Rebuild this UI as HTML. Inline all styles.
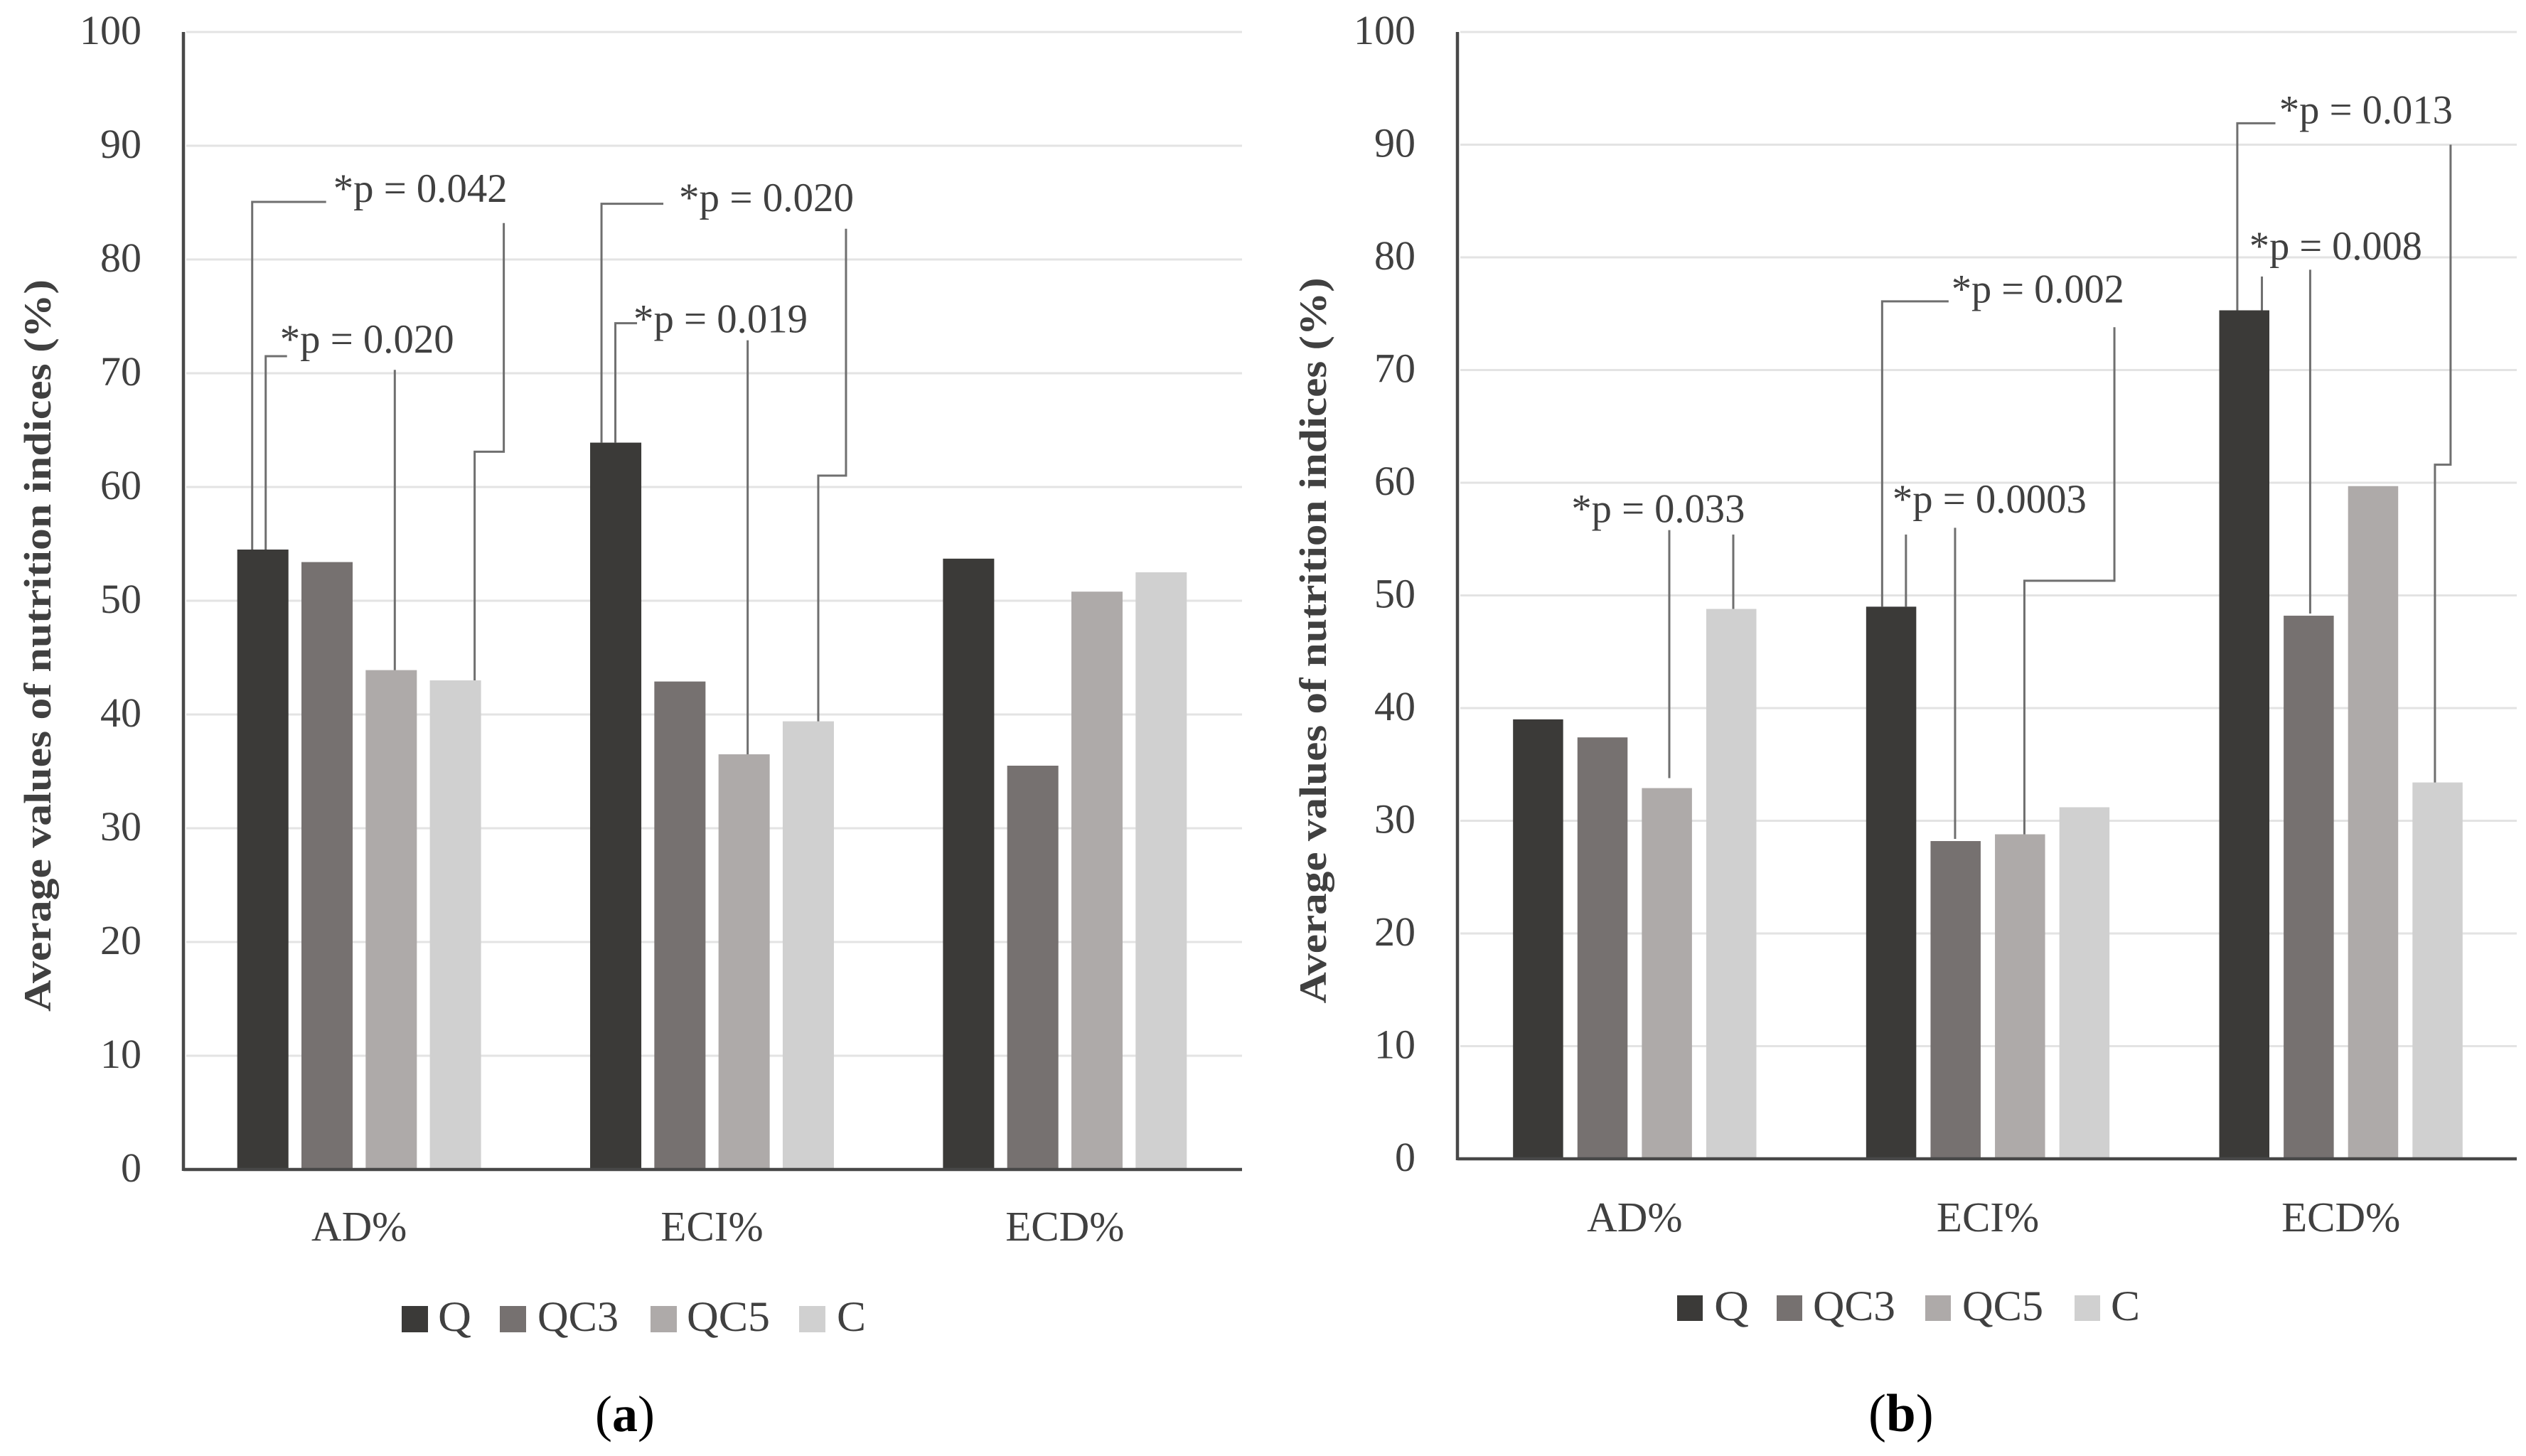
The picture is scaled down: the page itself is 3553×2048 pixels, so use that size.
<!DOCTYPE html>
<html lang="en">
<head>
<meta charset="utf-8">
<title>Average values of nutrition indices</title>
<style>
html,body{margin:0;padding:0;background:#fff;}
svg{display:block;}
text{font-family:"Liberation Serif","DejaVu Serif",serif;fill:#404040;}
</style>
</head>
<body>
<svg id="figure" xmlns="http://www.w3.org/2000/svg" width="3553" height="2048" viewBox="0 0 3553 2048">
  <rect x="0" y="0" width="3553" height="2048" fill="#ffffff"/>
  <text x="71" y="908" transform="rotate(-90 71 908)" text-anchor="middle" font-size="54" font-weight="bold" textLength="1030" lengthAdjust="spacingAndGlyphs">Average values of nutrition indices (%)</text>
  <text x="1865" y="901" transform="rotate(-90 1865 901)" text-anchor="middle" font-size="54" font-weight="bold" textLength="1021" lengthAdjust="spacingAndGlyphs">Average values of nutrition indices (%)</text>
  <text x="837" y="2013" font-size="72" style="fill:#000">(<tspan font-weight="bold">a</tspan>)</text>
  <text x="2628" y="2013" font-size="75" style="fill:#000">(<tspan font-weight="bold">b</tspan>)</text>
</svg>
<script>
// ---- data ----
const categories = ['AD%', 'ECI%', 'ECD%'];
const seriesNames = ['Q', 'QC3', 'QC5', 'C'];
const yTicks = [0, 10, 20, 30, 40, 50, 60, 70, 80, 90, 100];

const panelAQ = [54.5, 63.9, 53.7];
const panelAQC3 = [53.4, 42.9, 35.5];
const panelAQC5 = [43.9, 36.5, 50.8];
const panelAC = [43.0, 39.4, 52.5];

const panelBQ = [39.0, 49.0, 75.3];
const panelBQC3 = [37.4, 28.2, 48.2];
const panelBQC5 = [32.9, 28.8, 59.7];
const panelBC = [48.8, 31.2, 33.4];

const panelAPValues = ['*p = 0.042', '*p = 0.020', '*p = 0.020', '*p = 0.019'];
const panelBPValues = ['*p = 0.033', '*p = 0.002', '*p = 0.0003', '*p = 0.013', '*p = 0.008'];

// ---- appearance and layout ----
const seriesColors = ['#3b3a38', '#767170', '#aeaaa9', '#d0d0d0'];
const SVG_NS = 'http://www.w3.org/2000/svg';
const root = document.getElementById('figure');

const panels = [
  {
    id: 'a', axisX: 258, rightX: 1747, topY: 45, baseY: 1645,
    barWidth: 72, barStep: 90.3, centerShift: -1,
    categoryBaseline: 1745, categoryShift: 0,
    legendTop: 1837, legendSize: 37, legendBaseline: 1872,
    legendSwatchX: [565, 703, 915, 1124], legendTextX: [616, 756, 966, 1177], legendTextW: [47, 114, 117, 41],
    series: [panelAQ, panelAQC3, panelAQC5, panelAC],
    pValues: panelAPValues,
    // label: anchor bar [group, series], offset from the bar's left edge, height in axis units, width
    labels: [
      { bar: [0, 0], dx: 135, v: 85.06, w: 245 },
      { bar: [0, 0], dx: 60, v: 71.8, w: 245 },
      { bar: [1, 0], dx: 125, v: 84.25, w: 246 },
      { bar: [1, 0], dx: 61, v: 73.6, w: 245 }
    ],
    // leader: starts on top of the anchor bar, then follows route [offset, axis value]
    leaders: [
      { bar: [0, 0], dx: 21, gap: 0, route: [[21, 85.06], [125, 85.06]] },
      { bar: [0, 3], dx: 63, gap: 0, route: [[63, 63.1], [104, 63.1], [104, 83.2]] },
      { bar: [0, 0], dx: 40, gap: 0, route: [[40, 71.5], [70, 71.5]] },
      { bar: [0, 2], dx: 41, gap: 0, route: [[41, 70.3]] },
      { bar: [1, 0], dx: 16, gap: 0, route: [[16, 84.9], [103, 84.9]] },
      { bar: [1, 3], dx: 50, gap: 0, route: [[50, 61.0], [89, 61.0], [89, 82.7]] },
      { bar: [1, 0], dx: 35.5, gap: 0, route: [[35.5, 74.4], [66, 74.4]] },
      { bar: [1, 2], dx: 41, gap: 0, route: [[41, 72.9]] }
    ],
    tickRight: 199
  },
  {
    id: 'b', axisX: 2050, rightX: 3540, topY: 45, baseY: 1630,
    barWidth: 70.5, barStep: 90.6, centerShift: 1,
    categoryBaseline: 1732, categoryShift: 0,
    legendTop: 1822, legendSize: 36, legendBaseline: 1857,
    legendSwatchX: [2359, 2499, 2708, 2918], legendTextX: [2411, 2550, 2760, 2969], legendTextW: [49, 116, 114, 41],
    series: [panelBQ, panelBQC3, panelBQC5, panelBC],
    pValues: panelBPValues,
    labels: [
      { bar: [0, 2], dx: -99, v: 56.5, w: 244 },
      { bar: [1, 0], dx: 120, v: 76.0, w: 243 },
      { bar: [1, 0], dx: 37, v: 57.35, w: 273 },
      { bar: [2, 0], dx: 84.4, v: 91.9, w: 244 },
      { bar: [2, 0], dx: 42.4, v: 79.8, w: 243 }
    ],
    leaders: [
      { bar: [0, 2], dx: 38.6, gap: 14, route: [[38.6, 55.8]] },
      { bar: [0, 3], dx: 38, gap: 0, route: [[38, 55.4]] },
      { bar: [1, 0], dx: 22.5, gap: 0, route: [[22.5, 76.1], [116, 76.1]] },
      { bar: [1, 2], dx: 41.4, gap: 0, route: [[41.4, 51.3], [168, 51.3], [168, 73.8]] },
      { bar: [1, 0], dx: 56, gap: 0, route: [[56, 55.4]] },
      { bar: [1, 1], dx: 34.5, gap: 3, route: [[34.5, 56.0]] },
      { bar: [2, 0], dx: 25.4, gap: 0, route: [[25.4, 91.9], [79, 91.9]] },
      { bar: [2, 3], dx: 31.6, gap: 0, route: [[31.6, 61.6], [53.6, 61.6], [53.6, 90.0]] },
      { bar: [2, 0], dx: 60, gap: 0, route: [[60, 78.3]] },
      { bar: [2, 1], dx: 37.3, gap: 3, route: [[37.3, 78.9]] }
    ],
    tickRight: 1991
  }
];

function make(tag, props, parent) {
  const node = document.createElementNS(SVG_NS, tag);
  for (const key in props) node.setAttribute(key, props[key]);
  parent.appendChild(node);
  return node;
}

function drawPanel(p) {
  const yScale = v => p.baseY - (p.baseY - p.topY) * v / 100;
  const band = (p.rightX - p.axisX) / categories.length;
  const groupCenter = g => p.axisX + band * (g + 0.5) + p.centerShift;
  const barLeft = (g, s) => groupCenter(g) - (3 * p.barStep + p.barWidth) / 2 + s * p.barStep;

  const panelGroup = make('g', {}, root);
  
  

  // gridlines and y-axis tick labels
  yTicks.forEach(t => {
    if (t > 0) {
      const grid = make('line', { x1: p.axisX + 4, x2: p.rightX, y1: yScale(t), y2: yScale(t), stroke: '#e3e3e3', 'stroke-width': 3 }, panelGroup);
      
      
    }
    const label = make('text', { x: p.tickRight, y: yScale(t) + 17, 'text-anchor': 'end', 'font-size': 58 }, panelGroup);
    label.textContent = String(t);
    
    
  });

  // bars
  p.series.forEach((values, s) => {
    values.forEach((value, g) => {
      const top = yScale(value);
      const bar = make('rect', { x: barLeft(g, s), y: top, width: p.barWidth, height: p.baseY - top, fill: seriesColors[s] }, panelGroup);
      
      
    });
  });

  // axes
  const yAxis = make('line', { x1: p.axisX, x2: p.axisX, y1: p.topY, y2: p.baseY + 2, stroke: '#484848', 'stroke-width': 4.5 }, panelGroup);
  
  
  const xAxis = make('line', { x1: p.axisX, x2: p.rightX, y1: p.baseY, y2: p.baseY, stroke: '#484848', 'stroke-width': 4.5 }, panelGroup);
  
  

  // category labels
  categories.forEach((name, g) => {
    const label = make('text', { x: groupCenter(g) + p.categoryShift, y: p.categoryBaseline, 'text-anchor': 'middle', 'font-size': 59 }, panelGroup);
    label.textContent = name;
    
    
  });

  // significance leaders
  p.leaders.forEach((leader, i) => {
    const g = leader.bar[0];
    const s = leader.bar[1];
    const left = barLeft(g, s);
    const startY = yScale(p.series[s][g]) - leader.gap;
    const pts = [[left + leader.dx, startY]].concat(leader.route.map(r => [left + r[0], yScale(r[1])]));
    const line = make('polyline', { points: pts.map(q => q.join(',')).join(' '), fill: 'none', stroke: '#6f6f6f', 'stroke-width': 3 }, panelGroup);
    
    
  });

  // significance labels
  p.labels.forEach((item, i) => {
    const left = barLeft(item.bar[0], item.bar[1]);
    const label = make('text', { x: left + item.dx, y: yScale(item.v), 'font-size': 57, textLength: item.w, lengthAdjust: 'spacingAndGlyphs' }, panelGroup);
    label.textContent = p.pValues[i];
    
    
  });

  // legend
  seriesNames.forEach((name, s) => {
    const entry = make('g', {}, panelGroup);
    
    
    const swatch = make('rect', { x: p.legendSwatchX[s], y: p.legendTop, width: p.legendSize, height: p.legendSize, fill: seriesColors[s] }, entry);
    
    
    const text = make('text', { x: p.legendTextX[s], y: p.legendBaseline, 'font-size': 60, textLength: p.legendTextW[s], lengthAdjust: 'spacingAndGlyphs' }, entry);
    text.textContent = name;
    
    
  });
}

panels.forEach(drawPanel);
</script>
</body>
</html>
